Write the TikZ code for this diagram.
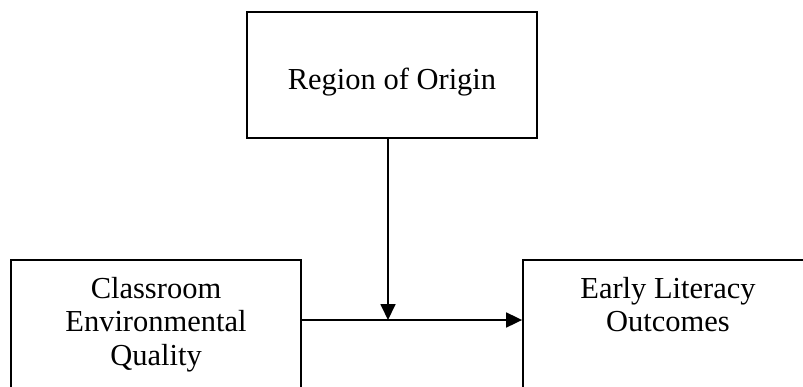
\documentclass[tikz,border=0pt]{standalone}
\usepackage{fontspec}
\setmainfont{Liberation Serif}
\usetikzlibrary{arrows.meta,positioning}

\begin{document}
\begin{tikzpicture}[x=1pt, y=-1pt,
    frame/.style={draw, line width=1.8pt, minimum width=290pt, inner sep=0pt},
    label/.style={align=center, inner sep=0pt, font=\fontsize{30.5}{33.5}\selectfont},
    arr/.style={line width=1.8pt, -{Triangle[length=16pt,width=15pt]}}]
    \useasboundingbox (0,0) rectangle (803,386);
    \clip (0,0) rectangle (803,386);

    % Boxes
    \node[frame, label, minimum height=126pt, text height=34.5pt, text depth=6.5pt] (origin) at (392,75) {Region of Origin};
    \node[frame, minimum height=160pt] (quality) at (156,340) {};
    \node[frame, minimum height=160pt] (outcome) at (668,340) {};

    % Box texts
    \node[label, below=18pt of quality.north] (qualitytext) {Classroom\\Environmental\\Quality};
    \node[label, below=18pt of outcome.north] (outcometext) {Early Literacy\\Outcomes};

    % Arrows
    \coordinate (join) at (388,320);
    \draw[arr] (quality.east |- join) -- (outcome.west |- join);
    \draw[arr] (origin.south -| join) -- (join);
\end{tikzpicture}
\end{document}
